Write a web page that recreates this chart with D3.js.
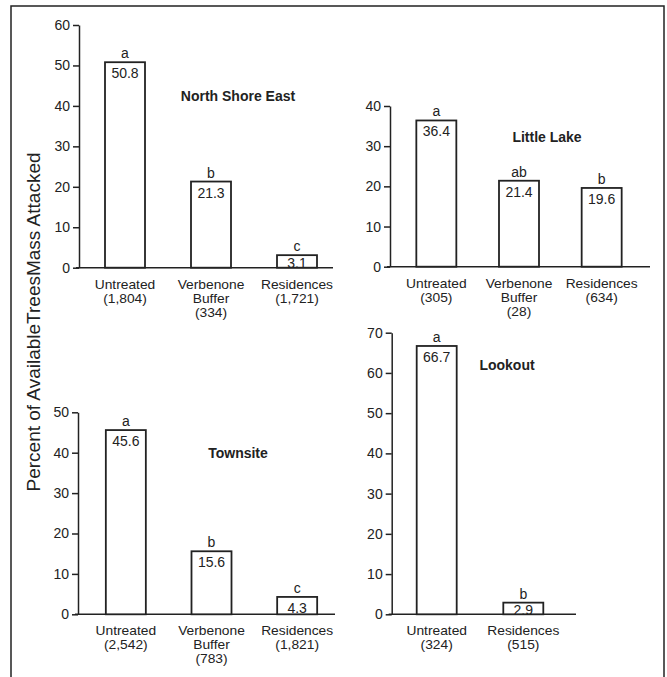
<!DOCTYPE html>
<html>
<head>
<meta charset="utf-8">
<script src="https://cdn.jsdelivr.net/npm/d3@7"></script>
<style>
  body { margin: 0; background: #fff; }
  svg { display: block; font-family: "Liberation Sans", Arial, sans-serif; }
</style>
</head>
<body>
<svg id="chart" width="667" height="677"></svg>
<script>
// data
const siteNames = ['North Shore East', 'Little Lake', 'Townsite', 'Lookout'];
const siteCategories = [
  ['Untreated', 'Verbenone Buffer', 'Residences'],
  ['Untreated', 'Verbenone Buffer', 'Residences'],
  ['Untreated', 'Verbenone Buffer', 'Residences'],
  ['Untreated', 'Residences']
];
const siteCounts = [
  ['1,804', '334', '1,721'],
  ['305', '28', '634'],
  ['2,542', '783', '1,821'],
  ['324', '515']
];
const siteValues = [
  [50.8, 21.3, 3.1],
  [36.4, 21.4, 19.6],
  [45.6, 15.6, 4.3],
  [66.7, 2.9]
];
const siteLetters = [
  ['a', 'b', 'c'],
  ['a', 'ab', 'b'],
  ['a', 'b', 'c'],
  ['a', 'b']
];
const siteYMax = [60, 40, 50, 70];
const yLabel = 'Percent of AvailableTreesMass Attacked';

// panel placement on the page
const layout = [
  { ax: 79, right: 333, band: [82, 340], y0: 267.7, yTop: 25, title: [238, 101] },
  { ax: 390, right: 650, band: [395, 643], y0: 266.7, yTop: 106, title: [547, 142] },
  { ax: 78, right: 335, band: [83, 340], y0: 614.3, yTop: 412.3, title: [238, 458] },
  { ax: 391.7, right: 576, band: [393.4, 566.6], y0: 614.3, yTop: 332.7, title: [507, 370] }
];
const barW = 40;

const svg = d3.select('#chart');

// outer frame
svg.append('rect')
  .attr('x', 11).attr('y', 6)
  .attr('width', 653).attr('height', 680)
  .attr('fill', 'none')
  .attr('stroke', '#222')
  .attr('stroke-width', 1.5);

// shared y axis title
svg.append('text')
  .attr('transform', 'translate(40,322) rotate(-90)')
  .attr('text-anchor', 'middle')
  .attr('font-size', '19px')
  .attr('fill', '#222')
  .text(yLabel);

siteNames.forEach((name, i) => {
  const L = layout[i];
  const cats = siteCategories[i];
  const vals = siteValues[i];

  const y = d3.scaleLinear().domain([0, siteYMax[i]]).range([L.y0, L.yTop]);
  const x = d3.scalePoint().domain(cats).range(L.band).padding(0.5);

  const g = svg.append('g');

  // y axis
  g.append('g')
    .attr('transform', `translate(${L.ax},0)`)
    .call(d3.axisLeft(y).ticks(siteYMax[i] / 10).tickSize(6).tickSizeOuter(0).tickPadding(3))
    .attr('font-size', 14)
    .attr('font-family', null)
    .call(a => a.selectAll('path, line').attr('stroke', '#222').attr('stroke-width', 1.5))
    .call(a => a.selectAll('text').attr('fill', '#222'));

  // baseline
  g.append('line')
    .attr('x1', L.ax - 3).attr('x2', L.right)
    .attr('y1', L.y0).attr('y2', L.y0)
    .attr('stroke', '#222')
    .attr('stroke-width', 1.5);

  // bars
  g.selectAll('rect.bar')
    .data(vals)
    .enter()
    .append('rect')
    .attr('class', 'bar')
    .attr('x', (d, j) => x(cats[j]) - barW / 2)
    .attr('y', d => y(d))
    .attr('width', barW)
    .attr('height', d => L.y0 - y(d))
    .attr('fill', '#fff')
    .attr('stroke', '#222')
    .attr('stroke-width', 1.8);

  // significance letters
  g.selectAll('text.letter')
    .data(vals)
    .enter()
    .append('text')
    .attr('x', (d, j) => x(cats[j]))
    .attr('y', d => y(d) - 4)
    .attr('text-anchor', 'middle')
    .attr('font-size', '14px')
    .attr('fill', '#222')
    .text((d, j) => siteLetters[i][j]);

  // values inside bars
  g.selectAll('text.value')
    .data(vals)
    .enter()
    .append('text')
    .attr('x', (d, j) => x(cats[j]))
    .attr('y', d => Math.min(y(d) + 16, L.y0 + 0.5))
    .attr('text-anchor', 'middle')
    .attr('font-size', '14px')
    .attr('fill', '#222')
    .text(d => d.toFixed(1));

  // category labels with sample sizes (scan is a bit stretched sideways)
  cats.forEach((c, j) => {
    const lines = c.split(' ').concat(['(' + siteCounts[i][j] + ')']);
    lines.forEach((ln, k) => {
      g.append('text')
        .attr('transform', `translate(${x(c)},${L.y0 + 21 + k * 14}) scale(1.15,1)`)
        .attr('text-anchor', 'middle')
        .attr('font-size', '12px')
        .attr('fill', '#222')
        .text(ln);
    });
  });

  // site title
  g.append('text')
    .attr('x', L.title[0])
    .attr('y', L.title[1])
    .attr('text-anchor', 'middle')
    .attr('font-size', '14px')
    .attr('font-weight', 'bold')
    .attr('fill', '#222')
    .text(name);
});
</script>
</body>
</html>
